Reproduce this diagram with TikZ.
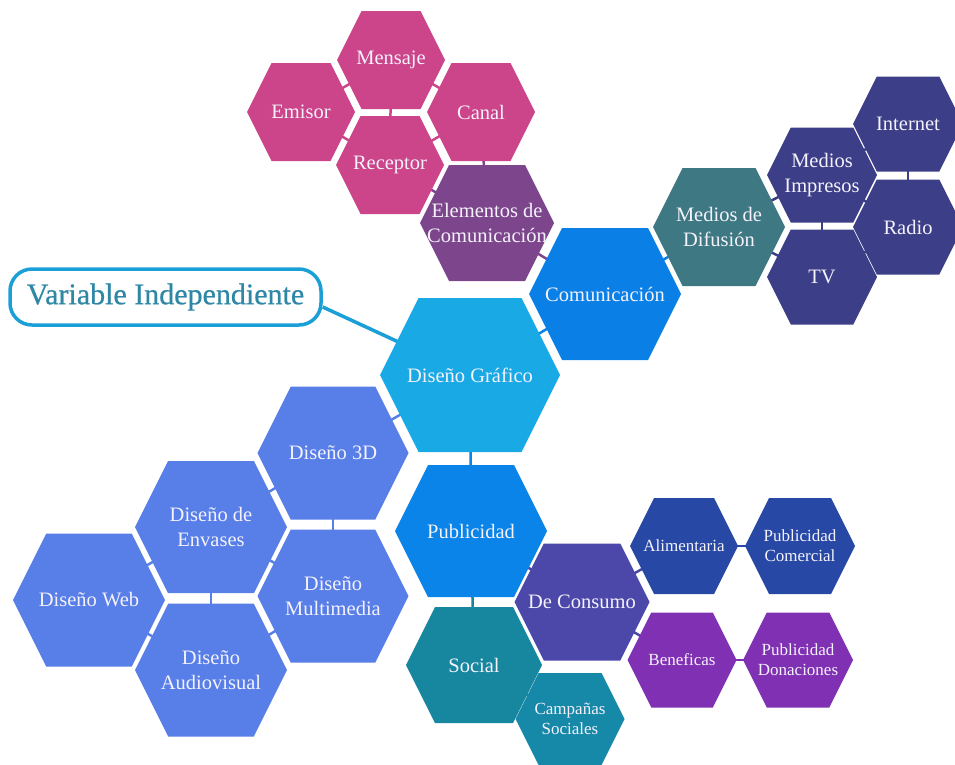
\documentclass[tikz,border=0pt]{standalone}
\usepackage{fontspec}
\setmainfont{Liberation Serif}
\newfontfamily\titlefont[FakeBold=0.6]{Liberation Serif}

% drawing order: connector stubs, then hexagon fills, then labels
\pgfdeclarelayer{links}
\pgfdeclarelayer{cells}
\pgfsetlayers{links,cells,main}

\definecolor{cPink}{HTML}{CC4489}
\definecolor{cElem}{HTML}{7D468C}
\definecolor{cComu}{HTML}{0A80E6}
\definecolor{cGraf}{HTML}{19AAE6}
\definecolor{cDifu}{HTML}{3E7882}
\definecolor{cIndi}{HTML}{3C3E87}
\definecolor{cDise}{HTML}{587EE8}
\definecolor{cPubl}{HTML}{0A84E8}
\definecolor{cSoci}{HTML}{1787A0}
\definecolor{cCamp}{HTML}{1789A8}
\definecolor{cCons}{HTML}{4B48AA}
\definecolor{cAlim}{HTML}{2848A5}
\definecolor{cBene}{HTML}{8030B2}
\definecolor{cText}{HTML}{F4F2FB}
\definecolor{cBorder}{HTML}{1A9FD6}
\definecolor{cVItext}{HTML}{2D87A5}

\tikzset{
  cellbox/.style={text=cText, align=center, inner sep=0pt, outer sep=0pt,
    font=\fontsize{20.5}{25}\selectfont},
  smalltext/.style={font=\fontsize{17}{20}\selectfont},
  link/.style={line width=2.5pt},
  vibox/.style={draw=cBorder, line width=3.5pt, rounded corners=22pt, fill=white,
    minimum width=311pt, minimum height=56pt, inner sep=0pt, text=cVItext,
    font=\titlefont\fontsize{30}{36}\selectfont},
  vilink/.style={draw=cBorder, line width=3.5pt}
}

% \hexcell[extra style]{name}{x,y}{width}{height}{colour}{label}
% a flat-topped hexagon whose slanted sides are inset by a quarter of its height
\newcommand\hexcell[7][]{%
  \node[cellbox, minimum width=#4pt, minimum height=#5pt, #1] (#2) at (#3) {#7};
  \begin{pgfonlayer}{cells}
    \fill[#6] (#2.west) -- ([xshift=#5pt/4]#2.north west)
      -- ([xshift=-#5pt/4]#2.north east) -- (#2.east)
      -- ([xshift=-#5pt/4]#2.south east) -- ([xshift=#5pt/4]#2.south west) -- cycle;
  \end{pgfonlayer}}

\begin{document}
\begin{tikzpicture}[x=1pt,y=-1pt]
\useasboundingbox (0,0) rectangle (955,764);

% communication elements
\hexcell{emi}{301,112}{108}{98}{cPink}{Emisor}
\hexcell{men}{391,60}{108}{98}{cPink}{Mensaje}
\hexcell{can}{481,112}{108}{98}{cPink}{Canal}
\hexcell{rec}{390,165}{108}{98}{cPink}{Receptor}
\hexcell{ele}{487,223}{134}{116}{cElem}{Elementos de\\Comunicación}

% centre
\hexcell{com}{605,294}{152}{132}{cComu}{Comunicación}
\hexcell{gra}{470,375}{180}{154}{cGraf}{Diseño Gráfico}

% media
\hexcell{dif}{719,227}{132}{118}{cDifu}{Medios de\\Difusión}
\hexcell{imp}{822,175}{110}{95}{cIndi}{Medios\\Impresos}
\hexcell{int}{908,124}{110}{95}{cIndi}{Internet}
\hexcell{rad}{908,227}{110}{95}{cIndi}{Radio}
\hexcell{tv}{822,277}{110}{95}{cIndi}{TV}

% design branches
\hexcell{d3d}{333,453}{151}{133}{cDise}{Diseño 3D}
\hexcell{env}{211,527}{152}{132}{cDise}{Diseño de\\Envases}
\hexcell{web}{89,600}{152}{133}{cDise}{Diseño Web}
\hexcell{aud}{211,670}{152}{133}{cDise}{Diseño\\Audiovisual}
\hexcell{mul}{333,596}{151}{133}{cDise}{Diseño\\Multimedia}

% advertising
\hexcell{pub}{471,531}{152}{132}{cPubl}{Publicidad}
\hexcell{soc}{474,665}{136}{116}{cSoci}{Social}
\hexcell{con}{582,602}{135}{117}{cCons}{De Consumo}
\hexcell[smalltext]{cam}{570,719}{109}{92}{cCamp}{Campañas\\Sociales}
\hexcell[smalltext]{ali}{684,546}{108}{96}{cAlim}{Alimentaria}
\hexcell[smalltext]{pco}{800,546}{110}{96}{cAlim}{Publicidad\\Comercial}
\hexcell[smalltext]{ben}{682,660}{109}{95}{cBene}{Beneficas}
\hexcell[smalltext]{pdo}{798,660}{110}{95}{cBene}{Publicidad\\Donaciones}

% title box
\node[vibox] (vi) at (165.5,297) {Variable Independiente};

\begin{pgfonlayer}{links}
  \draw[vilink] ([yshift=-10pt]vi.east) -- (gra.center);
  \foreach \a/\b/\c in {emi/men/cPink, emi/rec/cPink, men/rec/cPink, men/can/cPink,
      rec/can/cPink, can/ele/cElem, rec/ele/cElem, ele/com/cElem,
      com/gra/cComu, com/dif/cComu,
      dif/imp/cIndi, dif/tv/cIndi, imp/int/cIndi, imp/rad/cIndi, imp/tv/cIndi,
      int/rad/cIndi, rad/tv/cIndi,
      gra/pub/cPubl, gra/d3d/cDise,
      d3d/env/cDise, d3d/mul/cDise, env/mul/cDise, env/aud/cDise, env/web/cDise,
      web/aud/cDise, aud/mul/cDise,
      pub/soc/cSoci, pub/con/cCons, con/ali/cCons, con/ben/cCons,
      ali/pco/cAlim, ben/pdo/cBene, soc/cam/cSoci}
    \draw[link, draw=\c] (\a.center) -- (\b.center);
\end{pgfonlayer}
\end{tikzpicture}
\end{document}
